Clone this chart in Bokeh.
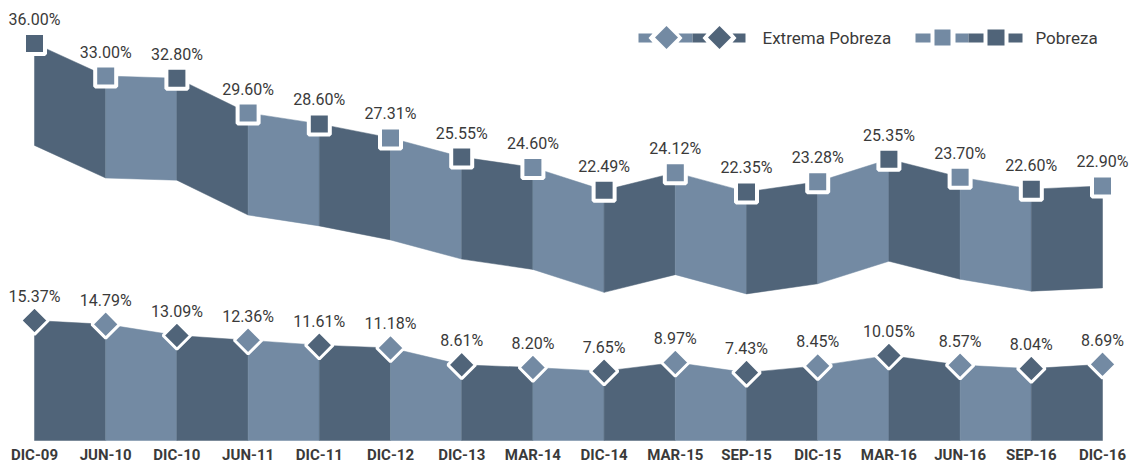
import math
from bokeh.plotting import figure
from bokeh.models import Range1d, PolyAnnotation, Label
from bokeh.core.properties import value
from bokeh.embed import file_html
from bokeh.resources import INLINE

# ---------------- data ----------------
periods = ["DIC-09", "JUN-10", "DIC-10", "JUN-11", "DIC-11", "DIC-12", "DIC-13", "MAR-14",
           "DIC-14", "MAR-15", "SEP-15", "DIC-15", "MAR-16", "JUN-16", "SEP-16", "DIC-16"]
pobreza = [36.00, 33.00, 32.80, 29.60, 28.60, 27.31, 25.55, 24.60,
           22.49, 24.12, 22.35, 23.28, 25.35, 23.70, 22.60, 22.90]
extrema = [15.37, 14.79, 13.09, 12.36, 11.61, 11.18, 8.61, 8.20,
           7.65, 8.97, 7.43, 8.45, 10.05, 8.57, 8.04, 8.69]
series_names = ["Extrema Pobreza", "Pobreza"]

# ---------------- style ----------------
DARK = "#506479"
LIGHT = "#738aa3"
TEXT = "#3a3a3a"
FONT = "Roboto"
W, H = 1129, 465
POB_DEPTH = 9.375      # thickness of the Pobreza ribbon (in % units)
EXT_BASE = -2.93       # base of the Extrema ribbon

p = figure(width=W, height=H, output_backend="svg", toolbar_location=None,
           x_range=Range1d(-0.4775, 15.379), y_range=Range1d(-2.798, 39.941),
           x_axis_location=None, y_axis_location=None,
           min_border=0, outline_line_color=None)
p.grid.visible = False
p.extra_y_ranges = {"ext": Range1d(-6.743, 64.184)}

n = len(periods)
idx = list(range(n))
cols = [DARK if i % 2 == 0 else LIGHT for i in range(n)]

# Pobreza ribbon
pxs, pys = [], []
for i in range(n - 1):
    pxs.append([i, i + 1, i + 1, i])
    pys.append([pobreza[i], pobreza[i + 1], pobreza[i + 1] - POB_DEPTH, pobreza[i] - POB_DEPTH])
p.patches(xs=pxs, ys=pys, fill_color=cols[:-1], line_color=cols[:-1], line_width=0.5)

# Extrema ribbon
exs, eys = [], []
for i in range(n - 1):
    exs.append([i, i + 1, i + 1, i])
    eys.append([extrema[i], extrema[i + 1], EXT_BASE, EXT_BASE])
p.patches(xs=exs, ys=eys, fill_color=cols[:-1], line_color=cols[:-1], line_width=0.5,
          y_range_name="ext")

# markers
p.scatter(idx, pobreza, marker="square", size=21, fill_color=cols,
          line_color="white", line_width=4)
p.scatter(idx, extrema, marker="square", angle=math.pi / 4, size=19.5, fill_color=cols,
          line_color="white", line_width=3, y_range_name="ext")

# value labels
p.text(idx, pobreza, text=[f"{v:.2f}%" for v in pobreza], text_align="center",
       text_baseline="middle", y_offset=-24, text_font=value(FONT),
       text_font_size="16px", text_color=TEXT)
p.text(idx, extrema, text=[f"{v:.2f}%" for v in extrema], text_align="center",
       text_baseline="middle", y_offset=-24, text_font=value(FONT),
       text_font_size="16px", text_color=TEXT, y_range_name="ext")

# category labels
p.text(idx, [EXT_BASE] * n, text=periods, text_align="center", text_baseline="middle",
       y_offset=14, text_font=value(FONT), text_font_style="bold",
       text_font_size="15px", text_color=TEXT, y_range_name="ext")

# ---------------- custom legend (screen units, measured from bottom-left) ----------------
def sx(px):
    return px

def sy(py):
    return H - py

def poly(pts, color):
    p.add_layout(PolyAnnotation(xs=[sx(a) for a, b in pts], ys=[sy(b) for a, b in pts],
                                xs_units="screen", ys_units="screen",
                                fill_color=color, fill_alpha=1.0, line_color=None))

T, B, M = 33, 42, 37.5

def rect(x0, x1, color, notch_left=False, notch_right=False):
    pts = [(x0, T), (x1, T)]
    if notch_right:
        pts.append((x1 - 4, M))
    pts += [(x1, B), (x0, B)]
    if notch_left:
        pts.append((x0 + 4, M))
    poly(pts, color)

def diamond(cx, cy, r, color):
    poly([(cx, cy - r), (cx + r, cy), (cx, cy + r), (cx - r, cy)], color)

def square(x0, x1, y0, y1, color):
    poly([(x0, y0), (x1, y0), (x1, y1), (x0, y1)], color)

# Extrema Pobreza legend
rect(638, 652, LIGHT, notch_right=True)
diamond(666, 37, 11.5, LIGHT)
rect(678, 692, LIGHT, notch_left=True)
rect(692, 706, DARK, notch_right=True)
diamond(719, 37, 11.5, DARK)
rect(732, 745, DARK, notch_left=True)
p.add_layout(Label(x=sx(762), y=sy(37), x_units="screen", y_units="screen",
                   text=series_names[0], text_baseline="middle", text_font=FONT,
                   text_font_size="17px", text_color=TEXT))

# Pobreza legend
rect(915, 930, LIGHT)
square(934, 950, 29, 45, LIGHT)
rect(955, 968, LIGHT)
rect(968, 983, DARK)
square(987, 1004, 29, 45, DARK)
rect(1008, 1022, DARK)
p.add_layout(Label(x=sx(1035), y=sy(37), x_units="screen", y_units="screen",
                   text=series_names[1], text_baseline="middle", text_font=FONT,
                   text_font_size="17px", text_color=TEXT))

open("out.html", "w").write(file_html(p, INLINE))
